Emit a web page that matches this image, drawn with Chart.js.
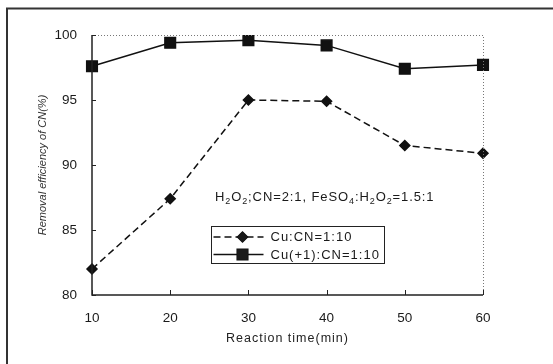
<!DOCTYPE html>
<html>
<head>
<meta charset="utf-8">
<script src="https://cdn.jsdelivr.net/npm/chart.js@4/dist/chart.umd.min.js"></script>
<style>
  html, body { margin: 0; padding: 0; background: #fff; }
  canvas { display: block; }
</style>
</head>
<body>
<canvas id="c" width="553" height="364"></canvas>
<script>
// Reaction time (min)
const times = ['10', '20', '30', '40', '50', '60'];
// Removal efficiency of CN (%)
const cuCN = [82.0, 87.4, 95.0, 94.9, 91.5, 90.9];
const cu1CN = [97.6, 99.4, 99.6, 99.2, 97.4, 97.7];
const seriesNames = ['Cu:CN=1:10', 'Cu(+1):CN=1:10'];
const yTicks = [80, 85, 90, 95, 100];
const xTitle = 'Reaction time(min)';
// Condition note, as [text, isSubscript] runs
const noteRuns = [['H', 0], ['2', 1], ['O', 0], ['2', 1], [';CN=2:1, FeSO', 0], ['4', 1],
                  [':H', 0], ['2', 1], ['O', 0], ['2', 1], ['=1.5:1', 0]];

const FONT = "'Liberation Sans', Arial, Helvetica, sans-serif";
const INK = '#1a1a1a';

// Frame, axes with inward ticks, dotted top/right border, x title, note and legend box
const decor = {
  id: 'decor',
  beforeDraw(chart) {
    const ctx = chart.ctx;
    ctx.save();
    ctx.fillStyle = '#fff';
    ctx.fillRect(0, 0, chart.width, chart.height);
    // outer frame (top and left edges)
    ctx.strokeStyle = '#333';
    ctx.lineWidth = 2;
    ctx.beginPath();
    ctx.moveTo(7, chart.height);
    ctx.lineTo(7, 8.5);
    ctx.lineTo(chart.width, 8.5);
    ctx.stroke();
    ctx.restore();
  },
  afterDatasetsDraw(chart) {
    const ctx = chart.ctx;
    const a = chart.chartArea;
    const xs = chart.scales.x, ys = chart.scales.y;
    ctx.save();
    // dotted top and right border
    ctx.strokeStyle = '#777';
    ctx.lineWidth = 1;
    ctx.setLineDash([1, 2]);
    ctx.beginPath();
    ctx.moveTo(a.left, a.top + 0.5);
    ctx.lineTo(a.right + 0.5, a.top + 0.5);
    ctx.lineTo(a.right + 0.5, a.bottom);
    ctx.stroke();
    ctx.setLineDash([]);
    // left and bottom axis lines
    ctx.strokeStyle = '#222';
    ctx.lineWidth = 1.5;
    ctx.beginPath();
    ctx.moveTo(a.left, a.top);
    ctx.lineTo(a.left, a.bottom);
    ctx.lineTo(a.right, a.bottom);
    ctx.stroke();
    // inward ticks
    ctx.lineWidth = 1;
    ctx.beginPath();
    yTicks.forEach(v => {
      const py = Math.round(ys.getPixelForValue(v)) + 0.5;
      ctx.moveTo(a.left, py);
      ctx.lineTo(a.left + 4, py);
    });
    times.forEach((t, i) => {
      const px = Math.round(xs.getPixelForValue(i)) + 0.5;
      ctx.moveTo(px, a.bottom);
      ctx.lineTo(px, a.bottom - 5);
    });
    ctx.stroke();

    // x axis title, letter-spaced
    ctx.fillStyle = '#222';
    ctx.font = '12.5px ' + FONT;
    ctx.letterSpacing = '1px';
    ctx.textAlign = 'center';
    ctx.textBaseline = 'middle';
    ctx.fillText(xTitle, (a.left + a.right) / 2, a.bottom + 44);

    // condition note with subscripts
    let x = a.left + 123;
    const yBase = a.top + 166;
    ctx.fillStyle = INK;
    ctx.textBaseline = 'alphabetic';
    ctx.textAlign = 'left';
    ctx.letterSpacing = '0.9px';
    noteRuns.forEach(([txt, sub]) => {
      ctx.font = (sub ? '9px ' : '13px ') + FONT;
      ctx.fillText(txt, x, yBase + (sub ? 3 : 0));
      x += ctx.measureText(txt).width;
    });

    // legend box
    const lx = a.left + 119.5, ly = a.top + 191.5, lw = 173, lh = 37;
    ctx.strokeStyle = '#222';
    ctx.lineWidth = 1;
    ctx.strokeRect(lx, ly, lw, lh);
    ctx.font = '13px ' + FONT;
    ctx.letterSpacing = '1px';
    ctx.textBaseline = 'middle';
    chart.data.datasets.forEach((ds, i) => {
      const ry = ly + 10.5 + i * 17.5;
      ctx.strokeStyle = ds.borderColor;
      ctx.lineWidth = ds.borderWidth;
      ctx.setLineDash(ds.borderDash || []);
      ctx.beginPath();
      ctx.moveTo(lx + 2, ry);
      ctx.lineTo(lx + 52, ry);
      ctx.stroke();
      ctx.setLineDash([]);
      Chart.helpers.drawPoint(ctx, {
        pointStyle: ds.pointStyle, radius: ds.pointRadius, borderWidth: 1
      }, lx + 31, ry);
      ctx.fillStyle = INK;
      ctx.fill();
      ctx.fillText(ds.label, lx + 59, ry + 0.5);
    });
    ctx.restore();
  }
};

new Chart(document.getElementById('c'), {
  type: 'line',
  data: {
    labels: times,
    datasets: [
      {
        label: seriesNames[0],
        data: cuCN,
        borderColor: '#111',
        backgroundColor: '#111',
        borderWidth: 1.5,
        borderDash: [7, 4],
        pointStyle: 'rectRot',
        pointRadius: 5,
        pointHoverRadius: 5,
        tension: 0
      },
      {
        label: seriesNames[1],
        data: cu1CN,
        borderColor: '#111',
        backgroundColor: '#111',
        borderWidth: 1.5,
        pointStyle: 'rect',
        pointRadius: 7.5,
        pointHoverRadius: 7.5,
        tension: 0
      }
    ]
  },
  options: {
    responsive: false,
    animation: false,
    devicePixelRatio: 1,
    layout: { padding: { top: 35, right: 70, bottom: 0, left: 0 } },
    plugins: { legend: { display: false }, tooltip: { enabled: false } },
    scales: {
      x: {
        type: 'category',
        offset: false,
        grid: { display: false, drawTicks: false },
        border: { display: false },
        ticks: { color: INK, font: { family: FONT, size: 13.5 }, padding: 15, maxRotation: 0 },
        afterFit(s) { s.height = 69; }
      },
      y: {
        min: 80, max: 100,
        grid: { display: false, drawTicks: false },
        border: { display: false },
        afterBuildTicks(s) { s.ticks = yTicks.map(v => ({ value: v })); },
        ticks: { color: INK, font: { family: FONT, size: 13.5 }, padding: 15 },
        title: {
          display: true, text: 'Removal efficiency of CN(%)', color: '#333',
          font: { family: FONT, size: 11, style: 'italic' }, padding: { top: 36, bottom: 0 }
        },
        afterFit(s) { s.width = 92; }
      }
    }
  },
  plugins: [decor]
});
</script>
</body>
</html>
